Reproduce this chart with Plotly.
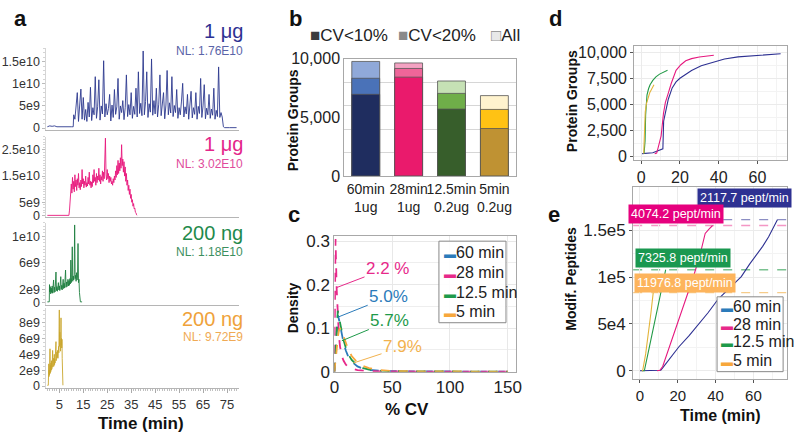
import plotly.graph_objects as go

NARROW = "Liberation Sans Narrow, Arial Narrow, Liberation Sans, Arial, sans-serif"
REG = "Liberation Sans, Arial, sans-serif"
W, H = 798, 445

# ---------------- panel a : chromatograms (intensity in units of 1e9) ----------------
time_ticks = [5, 15, 25, 35, 45, 55, 65, 75]
blue_chrom = [(0.0, 0.3), (1.0, 0.5), (2.0, 0.4), (3.0, 0.5), (4.0, 0.3), (6.0, 0.25), (8.0, 0.25), (10.0, 0.3), (10.8, 0.3),
              (11.0, 3.0), (11.5, 2.0), (12.0, 4.5), (12.5, 8.0), (13.0, 1.5), (13.5, 5.5), (14.0, 8.8), (14.5, 2.0),
              (15.0, 6.9), (15.5, 1.8), (16.0, 4.2), (16.5, 1.5), (17.0, 5.8), (17.5, 2.5), (18.0, 9.2), (18.5, 1.7),
              (19.0, 4.6), (19.5, 3.0), (20.0, 11.6), (20.5, 2.2), (21.0, 4.8), (21.5, 10.9), (22.0, 1.8), (22.5, 5.0),
              (23.0, 3.2), (23.5, 15.2), (24.0, 2.5), (24.5, 5.5), (25.0, 3.0), (25.5, 4.4), (26.0, 7.6), (26.5, 1.6),
              (27.0, 5.2), (27.5, 2.4), (28.0, 8.7), (28.5, 3.1), (29.0, 4.8), (29.5, 11.2), (30.0, 2.0), (30.5, 5.0),
              (31.0, 3.5), (31.5, 6.2), (32.0, 1.9), (32.5, 4.6), (33.0, 12.0), (33.5, 2.6), (34.0, 5.3), (34.5, 3.0),
              (35.0, 8.0), (35.5, 2.2), (36.0, 4.9), (36.5, 3.1), (37.0, 9.0), (37.5, 2.5), (38.0, 12.7), (38.5, 3.3),
              (39.0, 5.6), (39.5, 2.8), (40.0, 17.4), (40.5, 3.0), (41.0, 6.0), (41.5, 12.7), (42.0, 2.4), (42.5, 5.5),
              (43.0, 3.6), (43.5, 15.6), (44.0, 2.9), (44.5, 6.2), (45.0, 3.2), (45.5, 9.0), (46.0, 2.5), (46.5, 5.4),
              (47.0, 12.0), (47.5, 2.8), (48.0, 4.9), (48.5, 8.0), (49.0, 2.1), (49.5, 5.2), (50.0, 13.0), (50.5, 3.0),
              (51.0, 5.7), (51.5, 3.4), (52.0, 11.6), (52.5, 2.6), (53.0, 5.1), (53.5, 3.5), (54.0, 8.7), (54.5, 2.2),
              (55.0, 4.6), (55.5, 3.0), (56.0, 6.1), (56.5, 10.1), (57.0, 2.5), (57.5, 4.8), (58.0, 3.2), (58.5, 7.6),
              (59.0, 2.0), (59.5, 4.4), (60.0, 8.3), (60.5, 2.3), (61.0, 4.6), (61.5, 3.1), (62.0, 8.0), (62.5, 2.0),
              (63.0, 4.9), (63.5, 3.3), (64.0, 11.2), (64.5, 2.4), (65.0, 5.0), (65.5, 9.8), (66.0, 2.1), (66.5, 4.5),
              (67.0, 3.0), (67.5, 7.6), (68.0, 2.2), (68.5, 4.3), (69.0, 2.9), (69.5, 9.0), (70.0, 2.0), (70.5, 4.0),
              (71.0, 2.6), (71.5, 13.8), (72.0, 2.4), (72.5, 3.5), (73.0, 2.5), (73.5, 0.3), (74.0, 0.1), (76.0, 0.1),
              (79.0, 0.1)]
pink_chrom = [(0.0, 0.0), (8.0, 0.0), (9.0, 0.0), (9.25, 2.0), (9.5, 6.0), (9.75, 9.0), (10.0, 12.0), (10.25, 8.5),
              (10.5, 14.5), (10.75, 10.0), (11.0, 13.0), (11.25, 9.0), (11.5, 15.5), (11.75, 11.0), (12.0, 13.5),
              (12.25, 9.5), (12.5, 14.0), (12.75, 11.5), (13.0, 16.0), (13.25, 10.5), (13.5, 12.5), (13.75, 9.8),
              (14.0, 13.5), (14.25, 11.0), (14.5, 17.5), (14.75, 12.0), (15.0, 14.0), (15.25, 10.5), (15.5, 13.0),
              (15.75, 11.5), (16.0, 15.0), (16.25, 10.8), (16.5, 12.5), (16.75, 11.2), (17.0, 14.5), (17.25, 12.0),
              (17.5, 16.5), (17.75, 11.5), (18.0, 13.0), (18.25, 10.5), (18.5, 12.8), (18.75, 11.0), (19.0, 15.5),
              (19.25, 12.5), (19.5, 17.5), (19.75, 13.0), (20.0, 14.5), (20.25, 11.5), (20.5, 16.0), (20.75, 12.5),
              (21.0, 15.0), (21.25, 13.5), (21.5, 18.0), (21.75, 13.0), (22.0, 15.5), (22.25, 12.0), (22.5, 14.8),
              (22.75, 13.5), (23.0, 17.0), (23.25, 13.0), (23.5, 16.5), (23.75, 14.0), (24.0, 19.0), (24.25, 29.5),
              (24.5, 15.5), (24.75, 13.5), (25.0, 17.5), (25.25, 14.0), (25.5, 16.0), (25.75, 12.5), (26.0, 15.0),
              (26.25, 13.0), (26.5, 14.5), (26.75, 12.0), (27.0, 13.0), (27.25, 11.5), (27.5, 14.0), (27.75, 12.5),
              (28.0, 15.0), (28.25, 13.5), (28.5, 17.0), (28.75, 14.5), (29.0, 19.0), (29.25, 15.5), (29.5, 21.0),
              (29.75, 16.0), (30.0, 20.0), (30.25, 17.0), (30.5, 22.0), (30.75, 18.0), (31.0, 27.0), (31.25, 19.0),
              (31.5, 21.5), (31.75, 16.5), (32.0, 20.5), (32.25, 15.0), (32.5, 18.5), (32.75, 13.0), (33.0, 16.0),
              (33.25, 11.5), (33.5, 13.5), (33.75, 9.5), (34.0, 11.5), (34.25, 8.0), (34.5, 10.0), (34.75, 6.5),
              (35.0, 8.0), (35.25, 5.0), (35.5, 6.0), (35.75, 3.5), (36.0, 4.5), (36.25, 2.5), (36.5, 2.8),
              (36.75, 1.2), (37.0, 1.0), (37.25, 0.2), (37.5, 0.0)]
green_chrom = [(0.0, 0.1), (0.8, 0.1), (0.9, 2.7), (1.0, 1.6), (1.2, 2.4), (1.4, 1.3), (1.6, 2.2), (1.8, 1.5), (2.0, 2.5),
               (2.2, 1.4), (2.4, 2.0), (2.6, 3.4), (2.8, 1.5), (3.0, 2.3), (3.2, 1.6), (3.4, 2.6), (3.6, 4.6), (3.8, 1.8),
               (4.0, 2.4), (4.2, 1.7), (4.4, 2.8), (4.6, 3.0), (4.8, 1.9), (5.0, 2.5), (5.2, 1.8), (5.4, 2.7), (5.6, 3.9),
               (5.8, 2.0), (6.0, 2.6), (6.2, 1.9), (6.4, 2.8), (6.6, 3.5), (6.8, 2.1), (7.0, 2.9), (7.2, 2.2), (7.4, 3.0),
               (7.6, 4.9), (7.8, 2.3), (8.0, 3.1), (8.2, 2.4), (8.4, 3.2), (8.6, 3.5), (8.8, 2.5), (9.0, 3.3), (9.2, 2.6),
               (9.4, 3.6), (9.6, 2.8), (9.8, 6.4), (10.0, 3.0), (10.2, 3.8), (10.4, 8.4), (10.6, 3.2), (10.8, 4.0),
               (11.0, 3.4), (11.2, 4.2), (11.4, 11.7), (11.6, 3.6), (11.8, 4.1), (12.0, 3.2), (12.2, 4.5), (12.4, 3.4),
               (12.6, 4.0), (12.8, 8.9), (13.0, 3.0), (13.2, 3.5), (13.4, 1.5), (13.6, 0.2), (13.8, 0.1), (14.5, 0.1)]
gold_chrom = [(0.0, 0.1), (0.4, 0.1), (0.5, 1.5), (0.6, 2.8), (0.7, 1.2), (0.8, 2.0), (0.9, 1.4), (1.0, 3.0), (1.1, 4.7),
              (1.2, 1.6), (1.3, 2.6), (1.4, 1.8), (1.5, 2.9), (1.6, 2.0), (1.7, 3.2), (1.8, 2.1), (1.9, 2.8), (2.0, 2.3),
              (2.1, 3.4), (2.2, 4.5), (2.3, 2.4), (2.4, 3.1), (2.5, 2.6), (2.6, 3.5), (2.7, 2.5), (2.8, 3.0), (2.9, 4.0),
              (3.0, 2.7), (3.1, 3.4), (3.2, 2.9), (3.3, 3.8), (3.4, 3.0), (3.5, 4.2), (3.6, 5.6), (3.7, 3.2), (3.8, 4.0),
              (3.9, 3.3), (4.0, 4.3), (4.1, 3.6), (4.2, 4.0), (4.3, 4.5), (4.4, 3.5), (4.5, 4.6), (4.6, 3.9), (4.7, 5.0),
              (4.8, 4.2), (4.9, 6.5), (5.0, 9.6), (5.1, 5.0), (5.2, 6.8), (5.3, 4.6), (5.4, 5.5), (5.5, 4.4), (5.6, 6.0),
              (5.7, 8.6), (5.8, 5.2), (5.9, 6.0), (6.0, 4.8), (6.1, 5.9), (6.2, 3.5), (6.3, 2.0), (6.4, 0.8), (6.5, 0.1)]
chroms = [blue_chrom, pink_chrom, green_chrom, gold_chrom]
sample_labels = ["1 μg", "1 μg", "200 ng", "200 ng"]
nl_labels = ["NL: 1.76E10", "NL: 3.02E10", "NL: 1.18E10", "NL: 9.72E9"]
a_tickvals = [[0, 5, 10, 15], [0, 5, 15, 25], [0, 2, 6, 10], [0, 2, 4, 6, 8]]
a_ticktext = [["0", "5e9", "1e10", "1.5e10"], ["0", "5e9", "1.5e10", "2.5e10"],
              ["0", "2e9", "6e9", "1e10"], ["0", "2e9", "4e9", "6e9", "8e9"]]

# ---------------- panel b : protein groups ----------------
b_categories = ["60min<br>1ug", "28min<br>1ug", "12.5min<br>0.2ug", "5min<br>0.2ug"]
pg_cv10 = [6970, 8440, 5710, 4050]
pg_cv20 = [8340, 9180, 7050, 5680]
pg_all = [9780, 9650, 8110, 6860]

# ---------------- panel c : CV density ----------------
cv_x = [0, 1, 2, 3, 4, 5, 6, 7, 8, 10, 12, 15, 20, 25, 30, 40, 50, 75, 100, 125, 150]
dens_60 = [0, 0.05, 0.11, 0.13, 0.12, 0.105, 0.09, 0.077, 0.066, 0.048, 0.035, 0.023, 0.012, 0.007, 0.004, 0.002, 0.001, 0.0005, 0.0003, 0.0002, 0.0001]
dens_28 = [0, 0.305, 0.19, 0.12, 0.08, 0.056, 0.041, 0.032, 0.025, 0.016, 0.011, 0.007, 0.0035, 0.002, 0.0012, 0.0006, 0.0003, 0.0002, 0.0001, 0.0001, 0.0001]
dens_12 = [0, 0.04, 0.10, 0.14, 0.125, 0.11, 0.095, 0.083, 0.072, 0.054, 0.04, 0.027, 0.014, 0.008, 0.005, 0.0022, 0.0011, 0.0005, 0.0003, 0.0002, 0.0001]
dens_5 = [0, 0.02, 0.05, 0.08, 0.095, 0.10, 0.096, 0.089, 0.081, 0.065, 0.051, 0.036, 0.021, 0.013, 0.008, 0.0035, 0.0017, 0.0006, 0.0003, 0.0002, 0.0001]
median_cv = ["2.2 %", "5.0%", "5.7%", "7.9%"]
method_names = ["60 min", "28 min", "12.5 min", "5 min"]

# ---------------- panel d : cumulative protein groups ----------------
d_t60 = [0.5, 3, 6, 9, 11.2, 11.6, 12.5, 14, 16, 18, 20, 23, 26, 31, 36, 43, 50, 60, 66, 72]
d_v60 = [300, 330, 380, 600, 760, 3400, 4300, 5500, 6580, 7150, 7500, 7900, 8250, 8700, 9000, 9350, 9550, 9700, 9780, 9850]
d_t28 = [7, 8, 8.6, 9.3, 10.3, 11.5, 12.5, 13.8, 15.5, 18, 20.5, 23, 26, 30, 34, 37.5]
d_v28 = [300, 350, 760, 1200, 2000, 4130, 5200, 5960, 7000, 8260, 8800, 9170, 9380, 9540, 9650, 9700]
d_t12 = [1.5, 2.0, 2.3, 2.6, 3.0, 3.8, 4.6, 6.0, 7.6, 9.5, 11.5, 13.6]
d_v12 = [300, 1500, 4000, 5350, 5900, 6500, 6880, 7300, 7640, 7900, 8100, 8260]
d_t5 = [1.3, 1.6, 1.8, 2.1, 2.7, 3.5, 4.4, 5.5, 6.6]
d_v5 = [300, 1500, 3510, 4300, 5050, 5650, 6120, 6500, 6880]

# ---------------- panel e : cumulative modified peptides ----------------
e_t60 = [0, 5, 10, 11, 12, 16, 20.5, 26, 31, 36, 41.4, 47, 53.6, 58, 64.9, 68, 72.7]
e_v60 = [0, 0, 0, 500, 3000, 14000, 25400, 37500, 49300, 62000, 76700, 88000, 100600, 114000, 133000, 143000, 161500]
e_t28 = [9, 10.5, 12, 15, 19.7, 24, 28.2, 32, 34.5, 36.5, 38.4]
e_v28 = [0, 500, 4500, 22000, 49300, 75000, 100000, 126000, 146800, 151500, 155300]
e_t12 = [1.0, 2.3, 5, 7.5, 10, 12, 13.6]
e_v12 = [0, 0, 25800, 49300, 73600, 92700, 108000]
e_t5 = [1.0, 1.4, 3.0, 4.5, 5.8, 7.0]
e_v5 = [0, 0, 18000, 40000, 62000, 83500]
rate_labels = ["2117.7 pept/min", "4074.2 pept/min", "7325.8 pept/min", "11976.8 pept/min"]

# ---------------- styles ----------------
chrom_colors = ["#2E3A8F", "#E8197D", "#1E7F3F", "#C9A62C"]
label_colors = ["#2E3192", "#E4268A", "#1F8A4C", "#EFA23A"]
nl_colors = ["#5A64A8", "#E04B9B", "#3C8F5E", "#F0AA55"]
bar_dark = ["#1F2D5F", "#EA1A6C", "#375E2B", "#BF9233"]
bar_mid = ["#4A72B8", "#EF6599", "#6FAE49", "#FFC214"]
bar_light = ["#90A9D9", "#F4A2C2", "#C6E1B5", "#FFF3CE"]
dens_colors = ["#2B7BBA", "#E7298A", "#1E9A4A", "#F7A73B"]
curve_colors = ["#2E3192", "#E6197F", "#239A47", "#E3B43A"]
dash_colors = ["rgba(46,49,146,0.55)", "rgba(230,25,127,0.45)", "rgba(35,154,71,0.6)", "rgba(240,170,60,0.6)"]
rate_bg = ["#2E3192", "#E6007E", "#1A9850", "#FDB45C"]

fig = go.Figure()

# panel a traces
for i, ch in enumerate(chroms):
    t, v = zip(*ch)
    sfx = "" if i == 0 else str(i + 1)
    fig.add_trace(go.Scatter(x=list(t), y=list(v), mode="lines", line=dict(color=chrom_colors[i], width=0.9),
                             xaxis="x" + sfx, yaxis="y" + sfx, hoverinfo="skip"))

# panel b traces (overlay of cumulative counts)
for vals, cols, nm in [(pg_all, bar_light, "All"), (pg_cv20, bar_mid, "CV<20%"), (pg_cv10, bar_dark, "CV<10%")]:
    fig.add_trace(go.Bar(x=b_categories, y=vals, name=nm, marker=dict(color=cols, line=dict(color="#555555", width=0.8)),
                         xaxis="x5", yaxis="y5"))

# panel c traces
for dens, col in zip([dens_60, dens_28, dens_12, dens_5], dens_colors):
    fig.add_trace(go.Scatter(x=cv_x, y=dens, mode="lines", line=dict(color=col, width=1.8, dash="dash"),
                             xaxis="x6", yaxis="y6"))

# panel d traces
for tt, vv, col in zip([d_t60, d_t28, d_t12, d_t5], [d_v60, d_v28, d_v12, d_v5], curve_colors):
    fig.add_trace(go.Scatter(x=tt, y=vv, mode="lines", line=dict(color=col, width=1.1), xaxis="x7", yaxis="y7"))

# panel e traces
e_series = [(e_t60, e_v60), (e_t28, e_v28), (e_t12, e_v12), (e_t5, e_v5)]
for (tt, vv), col in zip(e_series, curve_colors):
    fig.add_trace(go.Scatter(x=tt, y=vv, mode="lines", line=dict(color=col, width=1.1), xaxis="x8", yaxis="y8"))

shapes = []
for (tt, vv), col in zip(e_series, dash_colors):
    shapes.append(dict(type="line", xref="x8 domain", yref="y8", x0=0, x1=1, y0=max(vv), y1=max(vv),
                       line=dict(color=col, width=1.3, dash="dash"), layer="below"))

# ---------------- axes ----------------
tickfont_a = dict(family=NARROW, size=12.5, color="#333333")
a_xdom = [0.0526, 0.297]
a_ydoms = [[0.7146, 0.9056], [0.5101, 0.6989], [0.3056, 0.4966], [0.1101, 0.2966]]
a_yranges = [[-0.4, 18], [-0.7, 30.1], [-0.3, 12.0], [-0.24, 9.8]]
a_minor = [1, 1, 0.5, 0.5]
layout_axes = {}
for i in range(4):
    sfx = "" if i == 0 else str(i + 1)
    last = i == 3
    layout_axes["xaxis" + sfx] = dict(domain=a_xdom, range=[-0.4, 79.9], anchor="y" + sfx, showgrid=False,
                                      zeroline=False, showline=True, linecolor="#B5B5B5", linewidth=1,
                                      tickmode="array", tickvals=time_ticks if last else [],
                                      ticks="outside" if last else "", ticklen=4, tickcolor="#AAAAAA",
                                      showticklabels=last, tickfont=dict(family=NARROW, size=13, color="#333333"),
                                      minor=dict(tickmode="linear", tick0=0, dtick=1, ticks="outside" if last else "",
                                                 ticklen=2, tickcolor="#C0C0C0"))
    layout_axes["yaxis" + sfx] = dict(domain=a_ydoms[i], range=a_yranges[i], anchor="x" + sfx, showgrid=False,
                                      zeroline=False, showline=True, linecolor="#D5D5D5", linewidth=1,
                                      tickmode="array", tickvals=a_tickvals[i], ticktext=a_ticktext[i],
                                      ticks="outside", ticklen=3, tickcolor="#BBBBBB", tickfont=tickfont_a,
                                      minor=dict(tickmode="linear", tick0=0, dtick=a_minor[i], ticks="outside",
                                                 ticklen=2, tickcolor="#D5D5D5"))

frame = dict(showline=True, mirror=True, linecolor="#A8A8A8", linewidth=1, zeroline=False)
layout_axes["xaxis5"] = dict(domain=[0.4311, 0.6491], anchor="y5", type="category", showgrid=False, ticks="",
                             tickangle=0, tickfont=dict(family=NARROW, size=14, color="#222222"), **frame)
layout_axes["yaxis5"] = dict(domain=[0.6067, 0.8809], anchor="x5", range=[0, 10000], tickmode="array",
                             tickvals=[0, 5000, 10000], ticktext=["0", "5,000", "10,000"], showgrid=False, ticks="",
                             tickfont=dict(family=NARROW, size=16, color="#222222"),
                             minor=dict(tickmode="linear", tick0=0, dtick=2000, showgrid=True, gridcolor="#D6D6D6",
                                        ticks=""), **frame)
layout_axes["xaxis6"] = dict(domain=[0.4185, 0.6491], anchor="y6", range=[0, 157], tickmode="array",
                             tickvals=[0, 50, 100, 150], showgrid=True, gridcolor="#E8E8E8", ticks="",
                             tickfont=dict(family=NARROW, size=17, color="#222222"), **frame)
layout_axes["yaxis6"] = dict(domain=[0.1483, 0.4652], anchor="x6", range=[0, 0.311], tickmode="array",
                             tickvals=[0, 0.1, 0.2, 0.3], ticktext=["0", "0.1", "0.2", "0.3"], showgrid=True,
                             gridcolor="#E8E8E8", ticks="", tickfont=dict(family=NARROW, size=17, color="#222222"),
                             minor=dict(tickmode="linear", tick0=0, dtick=0.05, showgrid=True, gridcolor="#EEEEEE",
                                        ticks=""), **frame)
grid_de = dict(showgrid=True, gridcolor="#EBEBEB", ticks="outside", ticklen=3, tickcolor="#555555")
layout_axes["xaxis7"] = dict(domain=[0.7995, 0.9937], anchor="y7", range=[-3.6, 75.3], tickmode="array",
                             tickvals=[0, 20, 40, 60], tickfont=dict(family=NARROW, size=16, color="#222222"),
                             minor=dict(tickmode="linear", tick0=0, dtick=10, showgrid=True, gridcolor="#F3F3F3"),
                             **grid_de, **frame)
layout_axes["yaxis7"] = dict(domain=[0.6449, 0.9101], anchor="x7", range=[-275, 10550], tickmode="array",
                             tickvals=[0, 2500, 5000, 7500, 10000], ticktext=["0", "2,500", "5,000", "7,500", "10,000"],
                             tickfont=dict(family=NARROW, size=16, color="#222222"),
                             minor=dict(tickmode="linear", tick0=0, dtick=1250, showgrid=True, gridcolor="#F3F3F3"),
                             **grid_de, **frame)
layout_axes["xaxis8"] = dict(domain=[0.7982, 0.9937], anchor="y8", range=[-3.6, 77.8], tickmode="array",
                             tickvals=[0, 20, 40, 60], tickfont=dict(family=NARROW, size=15, color="#222222"),
                             minor=dict(tickmode="linear", tick0=0, dtick=10, showgrid=True, gridcolor="#F3F3F3"),
                             **grid_de, **frame)
layout_axes["yaxis8"] = dict(domain=[0.1303, 0.5798], anchor="x8", range=[-9200, 196000], tickmode="array",
                             tickvals=[0, 50000, 100000, 150000], ticktext=["0", "5e4", "1e5", "1.5e5"],
                             tickfont=dict(family=NARROW, size=17, color="#222222"),
                             minor=dict(tickmode="linear", tick0=0, dtick=25000, showgrid=True, gridcolor="#F3F3F3"),
                             **grid_de, **frame)

# ---------------- annotations ----------------
def px(xp, yp):
    return xp / W, 1 - yp / H

ann = []
def text(xp, yp, s, size, color="#111111", family=NARROW, bold=False, xanchor="center", angle=0, **kw):
    x, y = px(xp, yp)
    ann.append(dict(x=x, y=y, xref="paper", yref="paper", text=("<b>%s</b>" % s) if bold else s, showarrow=False,
                    xanchor=xanchor, yanchor="middle", textangle=angle,
                    font=dict(family=family, size=size, color=color), **kw))

# panel letters
for letter, (xp, yp) in zip("abcde", [(16, 11), (295, 11), (293, 215), (558, 11), (557, 215)]):
    text(xp, yp, letter, 22, family=REG, bold=True)

# panel a labels
for i, (yl, yn) in enumerate([(24, 45), (142, 163), (234, 254), (324, 343)]):
    text(243, yl, sample_labels[i], 20, color=label_colors[i], xanchor="right")
    text(243, yn, nl_labels[i], 12, color=nl_colors[i], xanchor="right")

# axis titles
text(137.5, 433, "Time (min)", 17, bold=True)
text(292, 117, "Protein Groups", 14, family=REG, bold=True, angle=-90)
text(292, 312, "Density", 14, family=REG, bold=True, angle=-90)
text(408, 418, "% CV", 17, bold=True)
text(575, 97, "Protein Groups", 14, family=REG, bold=True, angle=-90)
text(573, 282, "Modif. Peptides", 14, family=REG, bold=True, angle=-90)
text(725, 425, "Time (min)", 16, bold=True)

# panel b legend
for xp, sq, lab in [(307, "#3C3C3C", "CV&lt;10%"), (396, "#8A8A8A", "CV&lt;20%"), (491, "#E8E8E8", "All")]:
    text(xp, 29, "<span style='color:%s'>■</span>%s" % (sq, lab), 17, color="#222222", xanchor="left")
text(491, 29, "<span style='color:#8A8A8A'>□</span><span style='color:rgba(0,0,0,0)'>All</span>", 17, xanchor="left")

# panel c callouts
c_pts = [(1.7, 0.193, 46, 0.238), (3.7, 0.126, 47, 0.172), (6.5, 0.071, 48, 0.117), (16.5, 0.02, 59, 0.057)]
for (x0, y0, tx, ty), s, col in zip(c_pts, median_cv, [dens_colors[1], dens_colors[0], dens_colors[2], "#F2B24E"]):
    ann.append(dict(x=x0, y=y0, xref="x6", yref="y6", ax=tx, ay=ty, axref="x6", ayref="y6", text=s,
                    showarrow=True, arrowhead=0, arrowwidth=1, arrowcolor=col,
                    font=dict(family=NARROW, size=17, color=col)))

# panel c legend
for yp, nm, col in zip([255, 276, 297, 316], method_names, dens_colors):
    text(443, yp, "<span style='color:%s;font-size:12px'>▬</span>%s" % (col, nm), 16, color="#222222", xanchor="left")
shapes.append(dict(type="rect", xref="paper", yref="paper", x0=440 / W, x1=508 / W, y0=1 - 328 / H, y1=1 - 243 / H,
                   line=dict(color="#888888", width=1), fillcolor="rgba(255,255,255,0.9)", layer="above"))

# panel e rate labels
for (xp, yp), s, bg in zip([(750, 198.5), (680, 215), (687.5, 261), (689, 287)], rate_labels, rate_bg):
    text(xp, yp, s, 12.5, color="#FFFFFF", bgcolor=bg, borderpad=2)

# panel e legend
for yp, nm, col in zip([311, 330, 348, 367], method_names, dens_colors):
    text(724, yp, "<span style='color:%s;font-size:12px'>▬</span>%s" % (col, nm), 16, color="#222222", xanchor="left")
shapes.append(dict(type="rect", xref="paper", yref="paper", x0=722 / W, x1=789 / W, y0=1 - 379 / H, y1=1 - 301 / H,
                   line=dict(color="#888888", width=1), fillcolor="rgba(255,255,255,0.95)", layer="above"))

fig.update_layout(width=W, height=H, margin=dict(l=0, r=0, t=0, b=0), autosize=False, showlegend=False,
                  paper_bgcolor="white", plot_bgcolor="white", barmode="overlay", bargap=0.35,
                  annotations=ann, shapes=shapes, font=dict(family=NARROW), **layout_axes)

page_css = ("var s=document.createElement('style');"
            "s.textContent='html,body{margin:0;padding:0;overflow:hidden;width:798px;height:445px;}"
            "body>div{margin:0;padding:0;line-height:0;font-size:0;}';"
            "document.head.appendChild(s);")
fig.write_html("out.html", config={"displayModeBar": False}, post_script=page_css)
